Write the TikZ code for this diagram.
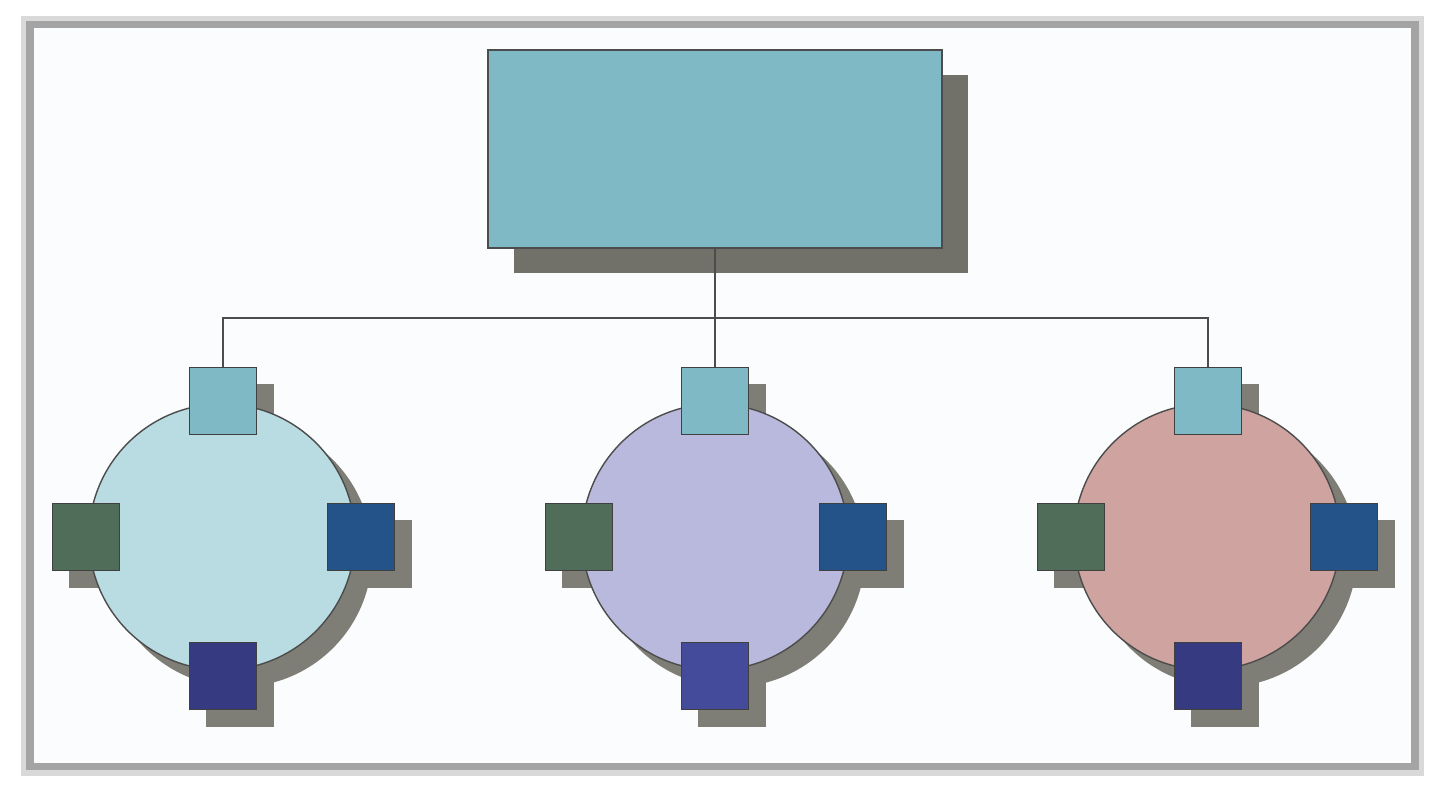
\documentclass[tikz,border=0pt]{standalone}
\usetikzlibrary{shadows}
\definecolor{boxblue}{HTML}{7FB9C6}
\definecolor{ringblue}{HTML}{B9DCE3}
\definecolor{ringlilac}{HTML}{B9B9DD}
\definecolor{ringrose}{HTML}{CFA4A0}
\definecolor{portgreen}{HTML}{4F6D58}
\definecolor{portblue}{HTML}{235389}
\definecolor{portnavy}{HTML}{363A80}
\definecolor{portindigo}{HTML}{444B9B}
\definecolor{shadowgray}{HTML}{7E7E76}
\definecolor{framegray}{HTML}{A4A4A4}
\definecolor{paper}{HTML}{FBFCFD}
\pgfdeclarelayer{back}
\pgfsetlayers{back,main}
\begin{document}
\begin{tikzpicture}[
		hub/.style={draw=black!70, fill=boxblue, minimum width=4.54cm, minimum height=1.98cm,
			drop shadow={shadow xshift=0.26cm, shadow yshift=-0.25cm, fill=shadowgray!90!black, opacity=1}},
		ring/.style={circle, draw=black!70, minimum size=2.66cm, inner sep=0pt,
			drop shadow={shadow xshift=0.17cm, shadow yshift=-0.17cm, fill=shadowgray, opacity=1}},
		port/.style={draw=black!75, minimum size=0.67cm, inner sep=0pt},
		wire/.style={black!70, line width=0.8pt}
	]
			\useasboundingbox (0,0) rectangle (14.4,7.92);

			% rings
			\node[ring, fill=ringblue] (ringA) at (2.22,2.55) {};
			\node[ring, fill=ringlilac] (ringB) at (7.15,2.55) {};
			\node[ring, fill=ringrose] (ringC) at (12.07,2.55) {};

			% top box
			\node[hub] (top) at (7.15,6.43) {};

			% ports of ring A
			\node[port, fill=portgreen] (leftA) at (0.86,2.55) {};
			\node[port, fill=portblue] (rightA) at (3.61,2.55) {};
			\node[port, fill=portnavy] (botA) at (2.23,1.16) {};
			\node[port, fill=boxblue] (topA) at (2.23,3.91) {};

			% ports of ring B
			\node[port, fill=portgreen] (leftB) at (5.79,2.55) {};
			\node[port, fill=portblue] (rightB) at (8.53,2.55) {};
			\node[port, fill=portindigo] (botB) at (7.15,1.16) {};
			\node[port, fill=boxblue] (topB) at (7.15,3.91) {};

			% ports of ring C
			\node[port, fill=portgreen] (leftC) at (10.71,2.55) {};
			\node[port, fill=portblue] (rightC) at (13.44,2.55) {};
			\node[port, fill=portnavy] (botC) at (12.08,1.16) {};
			\node[port, fill=boxblue] (topC) at (12.08,3.91) {};

			% frame and port shadows, behind the rings
			\begin{pgfonlayer}{back}
				\draw[black!15, line width=5pt] (0.30,0.25) rectangle (14.15,7.67);
				\draw[framegray, fill=paper, line width=2pt] (0.30,0.25) rectangle (14.15,7.67);
				\foreach \p in {leftA,rightA,botA,topA,leftB,rightB,botB,topB,leftC,rightC,botC,topC}
					\fill[shadowgray] ([shift={(0.17,-0.17)}]\p.south west) rectangle ([shift={(0.17,-0.17)}]\p.north east);
			\end{pgfonlayer}

			% wires
			\coordinate (bus) at (7.15,4.74);
			\draw[wire] (top.south) -- (topB.north);
			\draw[wire] (topA.north) -- (topA.north |- bus) -- (topC.north |- bus) -- (topC.north);
		\end{tikzpicture}
\end{document}
